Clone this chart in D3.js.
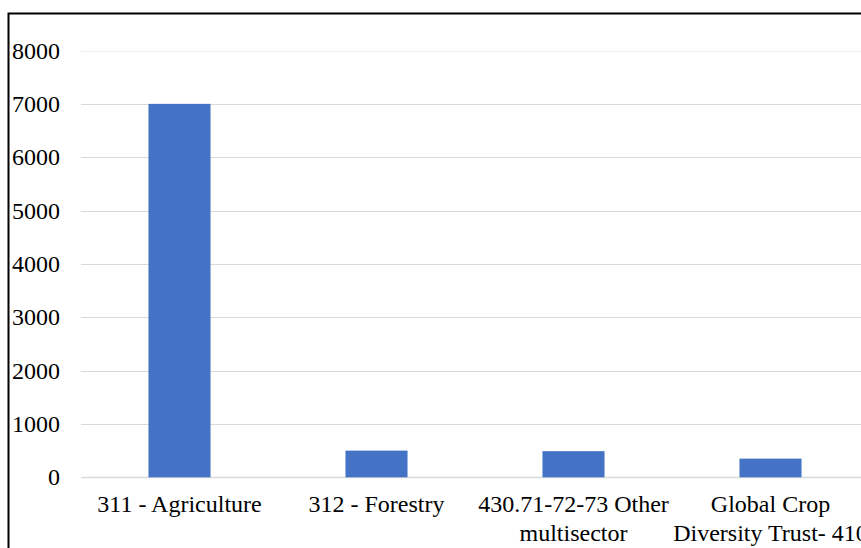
<!DOCTYPE html>
<html>
<head>
<meta charset="utf-8">
<script src="https://cdn.jsdelivr.net/npm/d3@7"></script>
</head>
<body style="margin:0;padding:0;background:#fff;overflow:hidden">
<svg id="chart" width="861" height="548" style="display:block"></svg>
<script>
// Category labels (line breaks as printed under each bar)
const categories = [
  ["311 - Agriculture"],
  ["312 - Forestry"],
  ["430.71-72-73 Other", "multisector"],
  ["Global Crop", "Diversity Trust- 410"]
];
const values = [7000, 500, 490, 350];
const yTicks = [0, 1000, 2000, 3000, 4000, 5000, 6000, 7000, 8000];

const FONT = '"Liberation Serif"';
const svg = d3.select("#chart");

// Plot area runs past the right edge of the frame
const plot = { left: 81, right: 869, top: 50.5, bottom: 477.3 };

const x = d3.scaleBand()
  .domain(d3.range(categories.length))
  .range([plot.left, plot.right])
  .paddingInner(0.685)
  .paddingOuter(0.3425);

const y = d3.scaleLinear()
  .domain([0, 8000])
  .range([plot.bottom, plot.top]);

// Outer chart frame
svg.append("rect")
  .attr("x", 8.5).attr("y", 13.5)
  .attr("width", 900).attr("height", 600)
  .attr("fill", "none")
  .attr("stroke", "#000")
  .attr("stroke-width", 2);

// Horizontal gridlines
svg.append("g")
  .selectAll("line")
  .data(yTicks)
  .join("line")
  .attr("x1", plot.left).attr("x2", 900)
  .attr("y1", d => Math.round(y(d)) + 0.5)
  .attr("y2", d => Math.round(y(d)) + 0.5)
  .attr("stroke", d => d === 8000 ? "#eeeeee" : "#d9d9d9")
  .attr("stroke-width", d => d === 0 ? 1.5 : 1.2);

// Y-axis labels
const yAxis = d3.axisLeft(y).tickValues(yTicks).tickSize(0).tickPadding(0).tickFormat(d3.format("d"));
const ya = svg.append("g")
  .attr("transform", "translate(60,0)")
  .call(yAxis);
ya.select(".domain").remove();
ya.selectAll("text")
  .style("font-family", FONT)
  .style("font-size", "24px")
  .attr("fill", "#000")
  .attr("dy", "0.32em");

// Bars
svg.append("g")
  .selectAll("rect")
  .data(values)
  .join("rect")
  .attr("x", (d, i) => x(i))
  .attr("width", x.bandwidth())
  .attr("y", d => y(d))
  .attr("height", d => y(0) - y(d))
  .attr("fill", "#4472C4");

// Category labels
const xl = svg.append("g")
  .selectAll("text")
  .data(categories)
  .join("text")
  .attr("x", (d, i) => x(i) + x.bandwidth() / 2)
  .attr("y", 512)
  .attr("text-anchor", "middle")
  .style("font-family", FONT)
  .style("font-size", "24px")
  .attr("fill", "#000");
xl.selectAll("tspan")
  .data(d => d)
  .join("tspan")
  .attr("x", function () { return d3.select(this.parentNode).attr("x"); })
  .attr("dy", (d, i) => i === 0 ? 0 : 28.5)
  .text(d => d);
</script>
</body>
</html>
